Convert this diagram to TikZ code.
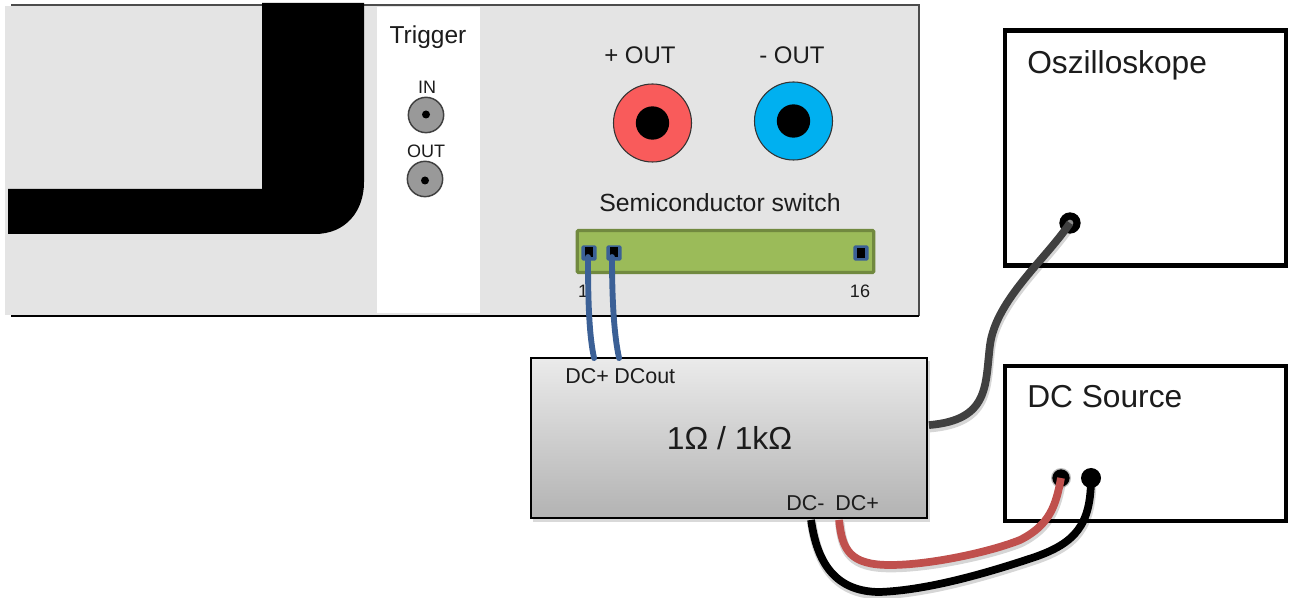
\documentclass[tikz,border=0pt]{standalone}
\usepackage{fontspec}
\setmainfont{Liberation Sans}
\usetikzlibrary{calc}
\definecolor{panelgray}{HTML}{E4E4E4}
\definecolor{txt}{HTML}{1C1C1C}
\definecolor{jackred}{HTML}{F95B5B}
\definecolor{jackblue}{HTML}{00B0F0}
\definecolor{barfill}{HTML}{9BBB59}
\definecolor{barline}{HTML}{71893F}
\definecolor{pinblue}{HTML}{3B6096}
\definecolor{cablered}{HTML}{C0504D}
\definecolor{cablegray}{HTML}{404040}
\newcommand{\pxfont}[1]{\fontsize{\dimexpr#1pt*3/4\relax}{\dimexpr#1pt*9/10\relax}\selectfont}
\tikzset{
  x=.75pt,y=-.75pt,
  lbl/.style={inner sep=0pt,anchor=base,text=txt},
  lblw/.style={inner sep=0pt,anchor=base west,text=txt},
  instrbox/.style={draw=black,line width=3.4pt,fill=white,inner sep=0pt},
  bnc/.style={circle,draw=black!75,line width=1.1pt,fill=black!40,inner sep=0pt,minimum size=26.5pt},
  bnchole/.style={circle,fill=black,inner sep=0pt,minimum size=6pt},
  jack/.style={circle,draw=black!80,line width=.8pt,inner sep=0pt,minimum size=58.5pt},
  jackhole/.style={circle,fill=black,inner sep=0pt,minimum size=25pt},
  pinbase/.style={rectangle,rounded corners=1.2pt,fill=pinblue,inner sep=0pt,minimum size=11.5pt},
  pinhole/.style={rectangle,fill=black,inner sep=0pt,minimum width=5.5pt,minimum height=7.5pt},
  term/.style={circle,fill=black,inner sep=0pt,minimum size=15pt},
  cablesh/.style={preaction={draw=black,draw opacity=.16,line width=7pt,transform canvas={shift={(.5pt,-2pt)}}}},
  cable/.style={line width=#1,line cap=round},
}
\begin{document}
\begin{tikzpicture}
\useasboundingbox (0,0) rectangle (1289,598);
\fill[white] (0,0) rectangle (1289,598);
% panel
\fill[panelgray] (5,6) rectangle (919,315);
\draw[black!70,line width=.9pt] (11,5) -- (919,5) -- (919,316);
\draw[black,line width=1pt] (11,316) -- (919,316);
\fill[white] (377,7) rectangle (480,313);
% thick L-shaped bar
\fill[black] (262,3) -- (364,3) -- (364,182)
  .. controls (364,212) and (345,234) .. (315,234) -- (8,234) -- (8,189) -- (262,189) -- cycle;
% trigger
\node[lbl,font=\pxfont{24.5}] (trig) at (428,44) {Trigger};
\node[lbl,font=\pxfont{18}] (inlbl) at (427,94) {IN};
\node[lbl,font=\pxfont{18}] (outlbl) at (426,158) {OUT};
\node[bnc] (bncin) at (426,115) {};
\node[bnchole] (bncinh) at (426,114.5) {};
\node[bnc] (bncout) at (425,179) {};
\node[bnchole] (bncouth) at (425,180.5) {};
% output jacks
\node[lbl,font=\pxfont{24}] (pout) at (640,64) {+ OUT};
\node[lbl,font=\pxfont{24}] (mout) at (792,64) {- OUT};
\node[jack,fill=jackred] (jr) at (652.5,123) {};
\node[jackhole] (jrh) at (652.5,123) {};
\node[jack,fill=jackblue] (jb) at (793.5,121) {};
\node[jackhole] (jbh) at (793.5,121) {};
% switch
\node[lbl,font=\pxfont{24.8}] (sw) at (720,212) {Semiconductor switch};
\node[rectangle,rounded corners=1pt,draw=barline,line width=2.4pt,fill=barfill,inner sep=0pt,minimum width=222.5pt,minimum height=31.5pt] (bar) at (725.5,251.5) {};
\node[pinbase] (p1) at (589,253) {};
\node[pinhole] (p1h) at (589,252) {};
\node[pinbase] (p2) at (614,253) {};
\node[pinhole] (p2h) at (614,252) {};
\node[pinbase] (p16) at (861,253) {};
\node[pinhole] (p16h) at (861,253) {};
\node[lbl,font=\pxfont{18}] (n1) at (583,298) {1};
\node[lbl,font=\pxfont{18}] (n16) at (860,298) {16};
% instruments
\node[instrbox,minimum width=210.5pt,minimum height=176pt] (osc) at (1145.5,148) {};
\node[instrbox,minimum width=210.5pt,minimum height=116pt] (dc) at (1145.5,443.5) {};
\node[lblw,font=\pxfont{31.7}] (osct) at (1027,74) {Oszilloskope};
\node[lblw,font=\pxfont{31.7}] (dct) at (1027,408) {DC Source};
% resistor box
\fill[black,opacity=.15] (533,361) rectangle (930,522);
\node[rectangle,draw=black,line width=1.4pt,top color=black!8,bottom color=black!30,inner sep=0pt,minimum width=297pt,minimum height=120pt] (rbox) at (729,438) {};
\node[lblw,font=\pxfont{21.5}] (dcp1) at (565,384) {DC+};
\node[lblw,font=\pxfont{21.5}] (dco) at (614,384) {DCout};
\node[lbl,font=\pxfont{31.8}] (res) at (729.5,450) {1Ω / 1kΩ};
\node[lblw,font=\pxfont{21.5}] (dcm) at (786,510) {DC-};
\node[lblw,font=\pxfont{21.5}] (dcp2) at (835,510) {DC+};
% free ends of cables
\coordinate (r1) at ($(rbox.north west)+(64,1)$);
\coordinate (r2) at ($(rbox.north west)+(89,1)$);
\coordinate (rs) at ($(rbox.north east)+(1,68)$);
\coordinate (rm) at ($(rbox.south west)+(281,1)$);
\coordinate (rp) at ($(rbox.south west)+(309,1)$);
\coordinate (s1) at ($(p1.center)+(-1,4)$);
\coordinate (s2) at ($(p2.center)+(-2,4)$);
% terminals
\node[circle,fill=black!25,inner sep=0pt,minimum size=15pt] (tph) at (1061,478) {};
\node[term,minimum size=16pt] (tosc) at (1070,223) {};
\node[circle,fill=black!45,inner sep=0pt,minimum size=5pt] (tosch) at (1070,223) {};
\node[term,minimum size=13pt] (tp) at (1061,478) {};
\node[term] (tm) at (1091,478) {};
% cables
\draw[cable=4.4pt,pinblue] (s1) .. controls (588,300) and (589,335) .. (r1);
\draw[cable=4.4pt,pinblue] (s2) .. controls (612,300) and (614,335) .. (r2);
\draw[cable=5.8pt,cablegray,line cap=butt,cablesh] (rs) .. controls (990,420) and (985,385) .. (990,345)
  .. controls (996,300) and (1045,260) .. (tosc.center);
\draw[cable=5.8pt,black,line cap=butt,cablesh] (rm) .. controls (816,555) and (830,592) .. (880,592)
  .. controls (930,590) and (990,572) .. (1035,557)
  .. controls (1075,543) and (1091,525) .. (tm.center);
\draw[cable=5.8pt,cablered,line cap=butt,cablesh] (rp) .. controls (842,550) and (850,565) .. (890,565)
  .. controls (930,565) and (990,552) .. (1020,540)
  .. controls (1050,525) and (1056,505) .. (tp.center);
\end{tikzpicture}
\end{document}
